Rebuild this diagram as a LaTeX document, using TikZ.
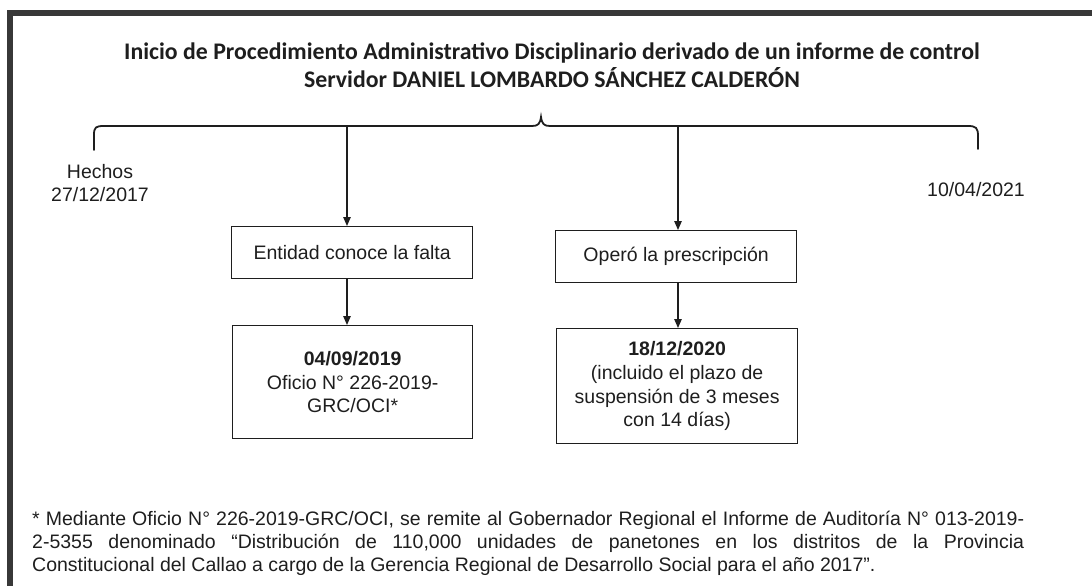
\documentclass[tikz,border=0pt]{standalone}
\usepackage{fontspec}
\setmainfont{Liberation Sans}
\newfontfamily\titlefont{Carlito}
\usetikzlibrary{arrows.meta}
\definecolor{ink}{HTML}{1E1E1E}
\definecolor{frame}{HTML}{383838}
\begin{document}
\begin{tikzpicture}[x=1pt,y=-1pt,
  every node/.style={text=ink, inner sep=0pt},
  lbl/.style={font=\fontsize{19.5}{23}\selectfont, align=center},
  stepbox/.style={draw=ink, line width=1.3pt, anchor=north west,
    font=\fontsize{19.5}{23.7}\selectfont, align=center},
  conn/.style={draw=ink, line width=1.2pt, -{Triangle[length=9pt,width=7.5pt]}},
  bracepath/.style={draw=ink, line width=1.8pt, line cap=round}]
\useasboundingbox (0,0) rectangle (1092,586);
% outer frame (top and left edges)
\draw[frame, line width=6pt] (10,586) -- (10,13.5) -- (1092,13.5);
% title
\node[font=\titlefont\bfseries\fontsize{23.8}{28}\selectfont, align=center] (title) at (552,65)
  {Inicio de Procedimiento Administrativo Disciplinario derivado de un informe de control\\
   Servidor DANIEL LOMBARDO SÁNCHEZ CALDERÓN};
% brace
\draw[bracepath] (94,150) -- (94,135) .. controls (94,127) and (96,126) .. (104,126)
  -- (532,126) .. controls (538,126) and (540,124) .. (541,117)
  .. controls (542,124) and (544,126) .. (550,126)
  -- (968,126) .. controls (976,126) and (978,128) .. (978,136) -- (978,149);
\coordinate (t1) at (347,126);
\coordinate (t2) at (678,126);
% side labels
\node[lbl] (hechos) at (100,183.5) {Hechos\\27/12/2017};
\node[lbl] (fin) at (976,190) {10/04/2021};
% boxes
\node[stepbox, minimum width=241pt, minimum height=52pt] (box1) at (231,226)
  {Entidad conoce la falta};
\node[stepbox, minimum width=240pt, minimum height=113pt] (box2) at (232,325)
  {\textbf{04/09/2019}\\Oficio N° 226-2019-\\GRC/OCI*};
\node[stepbox, minimum width=241pt, minimum height=52pt] (box3) at (555,230)
  {Operó la prescripción};
\node[stepbox, minimum width=241pt, minimum height=115pt] (box4) at (556,328)
  {\textbf{18/12/2020}\\(incluido el plazo de\\suspensión de 3 meses\\con 14 días)};
% connectors
\draw[conn] (t1) -- (t1 |- box1.north);
\draw[conn] (box1.south -| t1) -- (box2.north -| t1);
\draw[conn] (t2) -- (t2 |- box3.north);
\draw[conn] (box3.south -| t2) -- (box4.north -| t2);
% footnote
\node[anchor=north west, align=left, font=\fontsize{19.5}{23}\selectfont] (footer) at (32,511)
  {\makebox[992pt][s]{* Mediante Oficio N° 226-2019-GRC/OCI, se remite al Gobernador Regional el Informe de Auditoría N° 013-2019-}\\
   \makebox[992pt][s]{2-5355 denominado “Distribución de 110,000 unidades de panetones en los distritos de la Provincia}\\
   Constitucional del Callao a cargo de la Gerencia Regional de Desarrollo Social para el año 2017”.};
\end{tikzpicture}
\end{document}
